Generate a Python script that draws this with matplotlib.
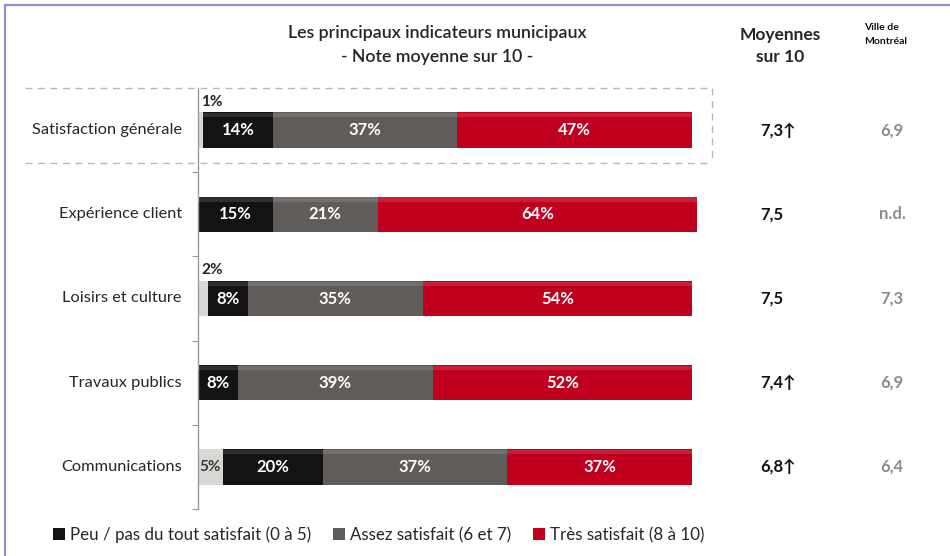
import matplotlib.pyplot as plt
from matplotlib.patches import Patch
from matplotlib.lines import Line2D

# Data
categories = ["Satisfaction générale", "Expérience client", "Loisirs et culture",
              "Travaux publics", "Communications"]
nsp = [1, 0, 2, 0, 5]          # small light segment (not in legend)
peu = [14, 15, 8, 8, 20]
assez = [37, 21, 35, 39, 37]
tres = [47, 64, 54, 52, 37]
moyennes = ["7,3", "7,5", "7,5", "7,4", "6,8"]
hausse = [True, False, False, True, True]
ville = ["6,9", "n.d.", "7,3", "6,9", "6,4"]
legend_labels = ["Peu / pas du tout satisfait (0 à 5)", "Assez satisfait (6 et 7)",
                 "Très satisfait (8 à 10)"]

C_LIGHT = "#d8d7d3"
C_BLACK = "#141213"
C_GRAY = "#605c59"
C_RED = "#c1001f"
TXT = "#262626"

W, H = 950, 556
plt.rcParams["font.family"] = ["Lato", "DejaVu Sans"]


def fx(px):
    return px / W


def fy(py):
    return 1 - py / H


fig = plt.figure(figsize=(9.5, 5.56), dpi=100)
ax = fig.add_axes([fx(198), fy(509), fx(697) - fx(198), (509 - 88) / H])

ypos = list(range(len(categories)))
bh = 0.42
segments = [(nsp, C_LIGHT), (peu, C_BLACK), (assez, C_GRAY), (tres, C_RED)]
left = [0] * len(categories)
for k, (vals, col) in enumerate(segments):
    ax.barh(ypos, vals, left=left, height=bh, color=col, edgecolor="none", zorder=2)
    # light bevel along the top of each segment
    ax.barh([y - bh / 2 + 0.035 for y in ypos], vals, left=left, height=0.05,
            color="white", alpha=0.12, edgecolor="none", zorder=3)
    for i, v in enumerate(vals):
        if v == 0:
            continue
        cx = left[i] + v / 2
        if k == 0:
            if v < 3:
                ax.text(left[i] + 0.6, ypos[i] - bh / 2 - 0.04, f"{v}%", ha="left", va="bottom",
                        fontsize=11, fontweight="bold", color=TXT, zorder=4)
            else:
                ax.text(cx, ypos[i], f"{v}%", ha="center", va="center",
                        fontsize=11, fontweight="bold", color="#3a3a3a", zorder=4)
        else:
            ax.text(cx, ypos[i], f"{v}%", ha="center", va="center",
                    fontsize=12, fontweight="bold", color="white", zorder=4)
    left = [l + v for l, v in zip(left, vals)]

ax.set_xlim(0, 100)
ax.set_ylim(len(categories) - 0.5, -0.5)
ax.set_xticks([])
ax.set_yticks([y + 0.5 for y in ypos])
ax.set_yticklabels([])
ax.tick_params(axis="y", length=4, color="#9a9a9a", direction="out")
for s in ["top", "right", "bottom"]:
    ax.spines[s].set_visible(False)
ax.spines["left"].set_color("#9a9a9a")
ax.spines["left"].set_linewidth(1.0)
ax.patch.set_alpha(0)

# category labels and averages
for i, cat in enumerate(categories):
    ytxt = ax.transData.transform((0, ypos[i]))
    yf = fig.transFigure.inverted().transform(ytxt)[1]
    fig.text(fx(182), yf, cat, ha="right", va="center", fontsize=11.8, color=TXT)
    m = moyennes[i] + ("\u2191" if hausse[i] else "")
    fig.text(fx(760), yf, m, ha="left", va="center", fontsize=12, fontweight="bold", color="#111111")
    fig.text(fx(892), yf, ville[i], ha="center", va="center", fontsize=12,
             fontweight="bold", color="#8c8c8c")

# headers
fig.text(fx(437), fy(33), "Les principaux indicateurs municipaux", ha="center", va="center",
         fontsize=12.8, fontweight="semibold", color=TXT)
fig.text(fx(437), fy(57), "- Note moyenne sur 10 -", ha="center", va="center",
         fontsize=12.8, fontweight="semibold", color=TXT)
fig.text(fx(780), fy(35), "Moyennes", ha="center", va="center", fontsize=12.5,
         fontweight="bold", color=TXT)
fig.text(fx(780), fy(57), "sur 10", ha="center", va="center", fontsize=12.5,
         fontweight="bold", color=TXT)
fig.text(fx(864), fy(27), "Ville de", ha="left", va="center", fontsize=7.5,
         fontweight="bold", color="#111111")
fig.text(fx(864), fy(42), "Montréal", ha="left", va="center", fontsize=7.5,
         fontweight="bold", color="#111111")

# dashed highlight box around the first row (top, bottom and right sides)
box = dict(transform=fig.transFigure, color="#b8b8b8", linestyle=(0, (5, 4)), linewidth=1.0)
fig.add_artist(Line2D([fx(25), fx(712)], [fy(88), fy(88)], **box))
fig.add_artist(Line2D([fx(25), fx(712)], [fy(163), fy(163)], **box))
fig.add_artist(Line2D([fx(712), fx(712)], [fy(88), fy(163)], **box))

# purple frame (top and left)
fig.add_artist(Line2D([fx(5), 1], [fy(5), fy(5)], transform=fig.transFigure,
                      color="#9a86cc", linewidth=1.5))
fig.add_artist(Line2D([fx(5), fx(5)], [fy(5), 0], transform=fig.transFigure,
                      color="#9a86cc", linewidth=1.5))

handles = [Patch(facecolor=c) for c in (C_BLACK, C_GRAY, C_RED)]
fig.legend(handles, legend_labels, loc="center left", bbox_to_anchor=(fx(46), fy(535)),
           ncol=3, frameon=False, fontsize=12.2, handlelength=0.7, handleheight=0.7,
           handletextpad=0.3, columnspacing=1.3, labelcolor=TXT, borderaxespad=0)

fig.savefig("out.png", dpi=100, facecolor="white")
